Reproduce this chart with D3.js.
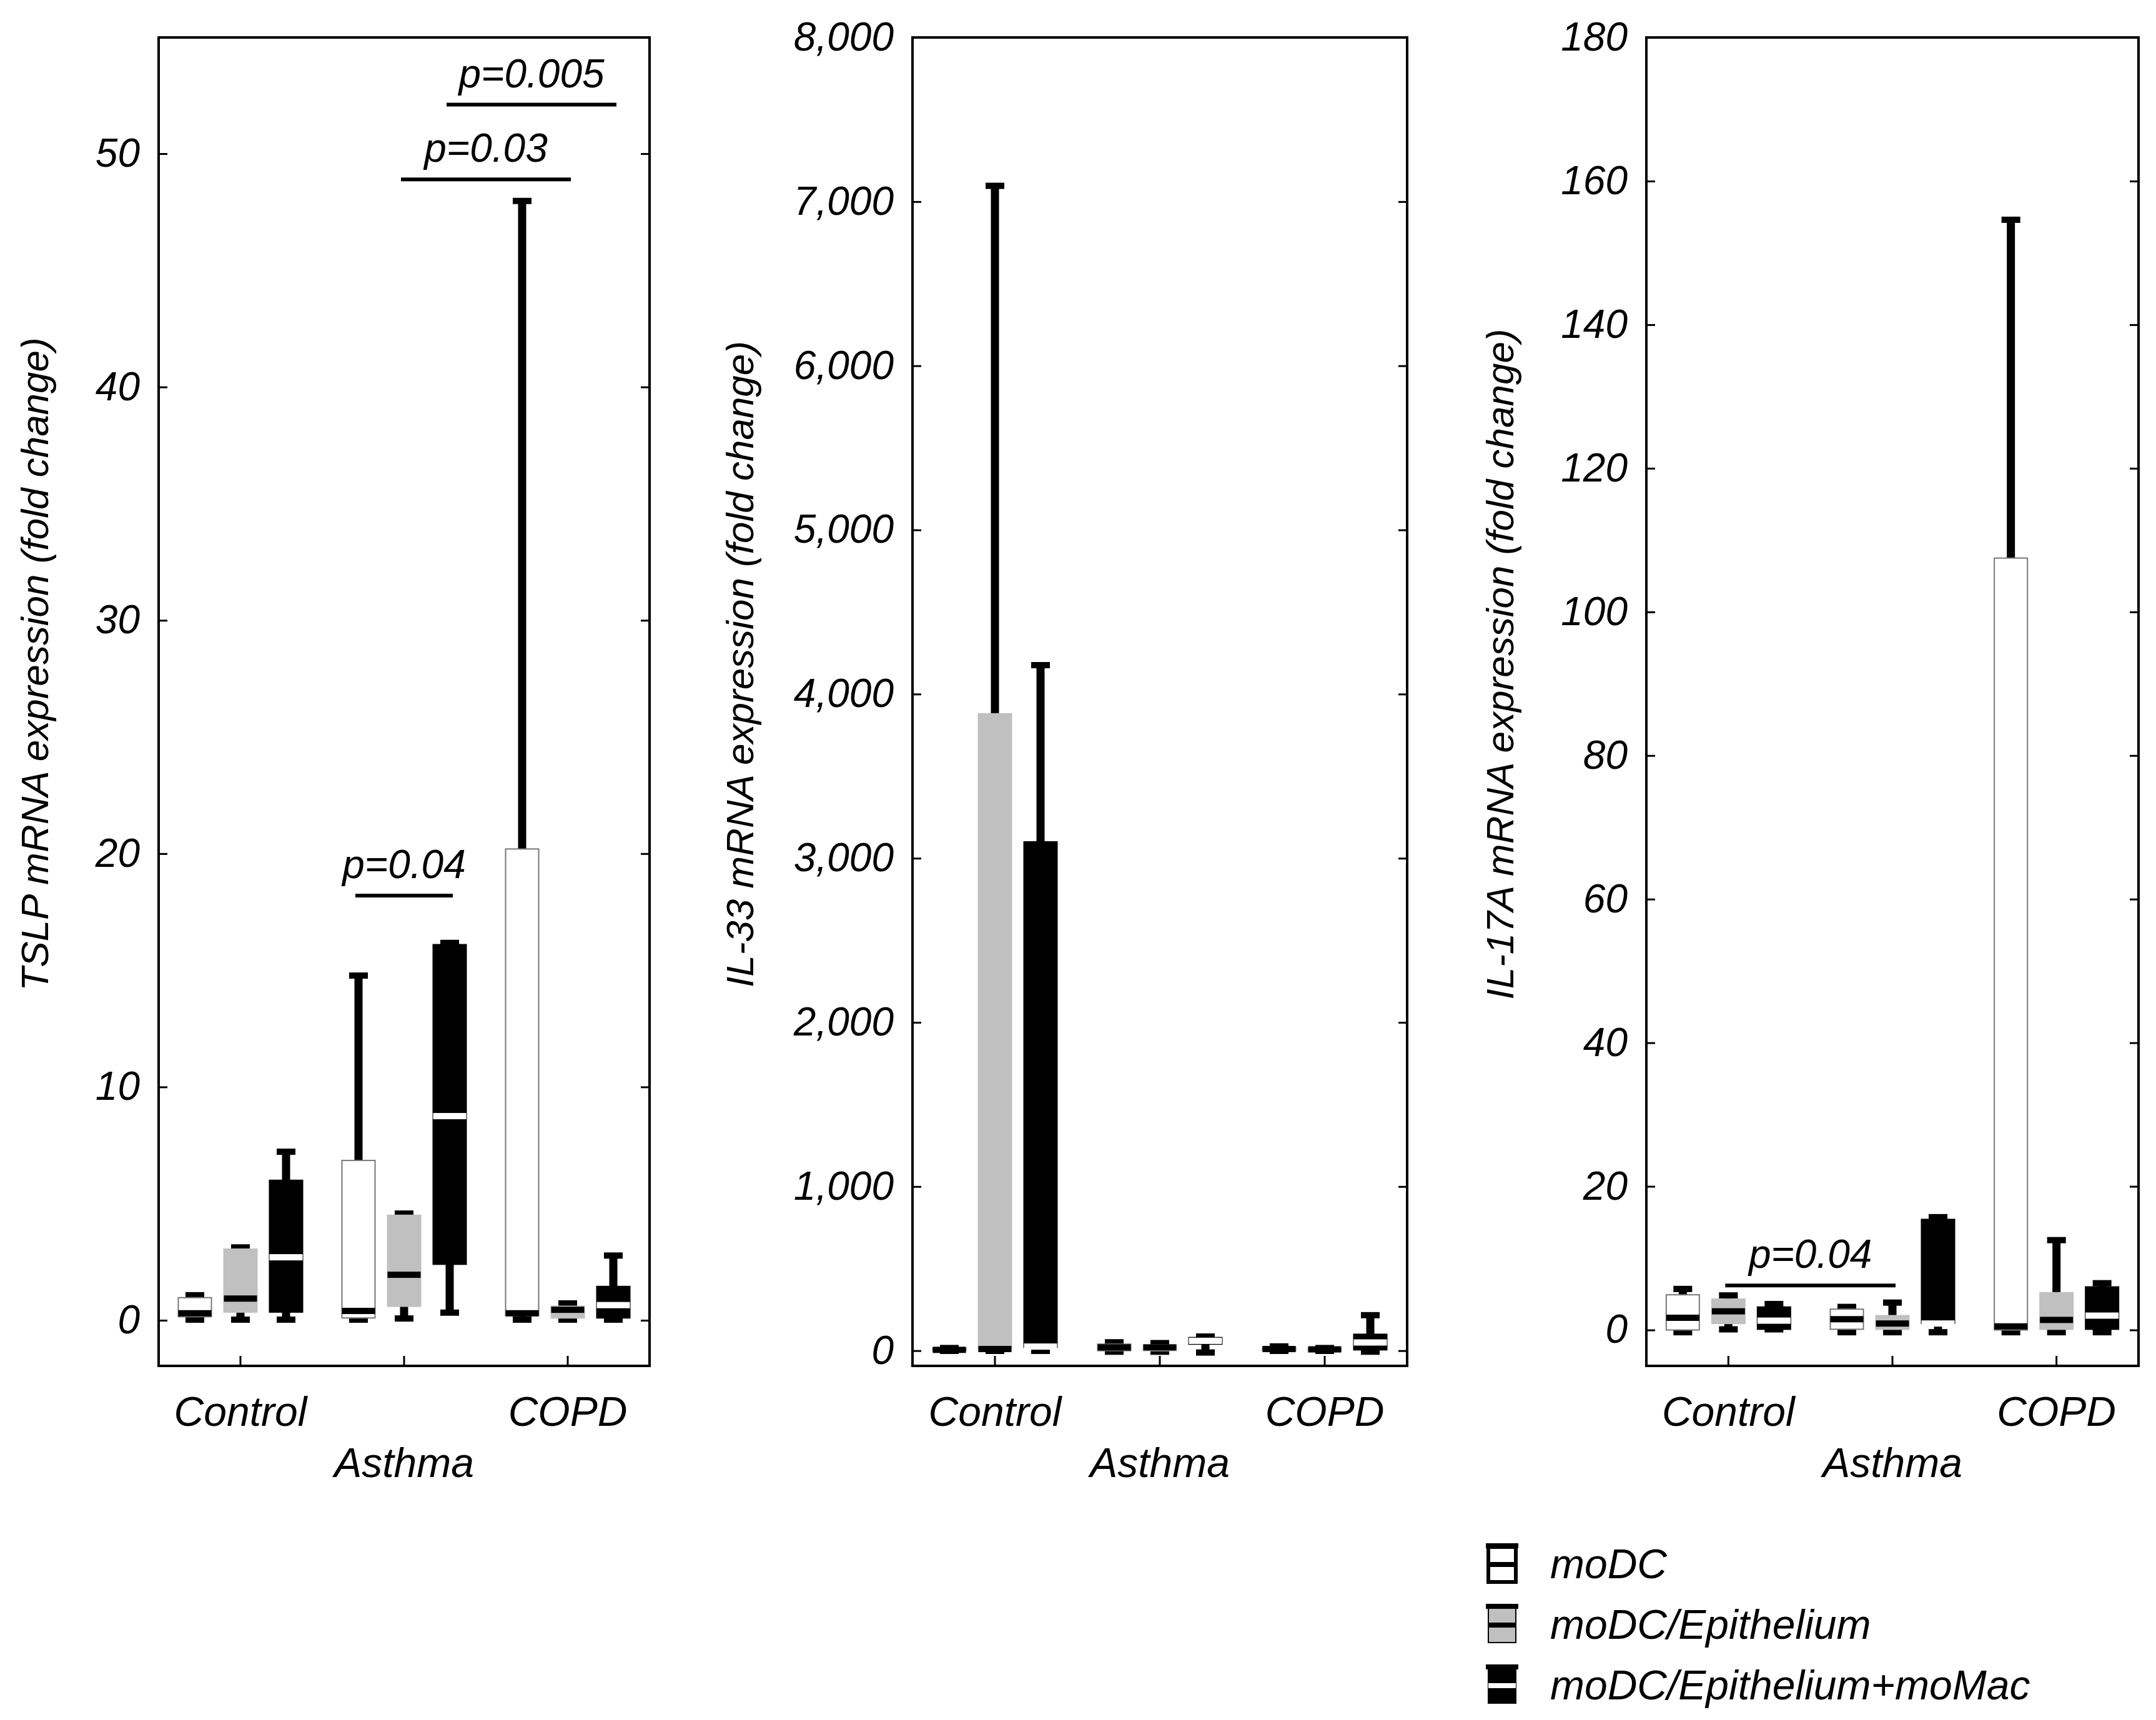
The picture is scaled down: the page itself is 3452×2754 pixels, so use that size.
<!DOCTYPE html>
<html><head><meta charset="utf-8">
<script src="https://cdn.jsdelivr.net/npm/d3@7"></script>
<style>body{margin:0;background:#fff}text{font-family:"Liberation Sans",Arial,sans-serif;font-style:italic}</style>
</head><body>
<script>
// groups and series
var groups = ['Control', 'Asthma', 'COPD'];
var series = ['moDC', 'moDC/Epithelium', 'moDC/Epithelium+moMac'];
var colors = ['#ffffff', '#c0c0c0', '#000000'];

// box stats per panel: [min, q1, median, q3, max], order: group x series
var tslp = [
  [0, 0.15, 0.3, 0.97, 1.1], [0, 0.35, 0.93, 3.05, 3.15], [0, 0.35, 2.7, 6.0, 7.25],
  [0, 0.1, 0.4, 6.85, 14.8], [0.05, 0.6, 1.95, 4.5, 4.6], [0.3, 2.4, 8.75, 16.1, 16.2],
  [0, 0.2, 0.3, 20.2, 48], [0, 0.1, 0.45, 0.6, 0.75], [0, 0.1, 0.65, 1.45, 2.8]
];
var il33 = [
  [-5, 0, 5, 15, 20], [-5, 5, 10, 3880, 7100], [-5, 20, 25, 3100, 4180],
  [-10, 0, 20, 40, 55], [-10, 0, 20, 35, 50], [-15, 40, 60, 80, 90],
  [-5, 0, 10, 20, 30], [-5, 0, 8, 15, 20], [-10, 5, 50, 100, 220]
];
var il17 = [
  [-0.4, 0, 1.7, 4.9, 5.8], [0, 0.9, 2.6, 4.3, 4.9], [0, 0.1, 1.3, 3.2, 3.7],
  [-0.4, 0.1, 1.5, 2.9, 3.3], [-0.4, 0.1, 0.9, 2.0, 3.9], [-0.4, 0.9, 0.9, 15.4, 15.8],
  [-0.4, 0, 0.5, 107.5, 154.7], [-0.4, 0.1, 1.4, 5.2, 12.6], [-0.4, 0.1, 2.0, 6.0, 6.6]
];

var tslpTicks = [0, 10, 20, 30, 40, 50];
var il33Ticks = [0, 1000, 2000, 3000, 4000, 5000, 6000, 7000, 8000];
var il17Ticks = [0, 20, 40, 60, 80, 100, 120, 140, 160, 180];

// p-value brackets: [group, series, group, series, y, label]
var tslpP = [[1, 0, 1, 2, 18.2, 'p=0.04'], [1, 1, 2, 1, 48.9, 'p=0.03'], [1, 2, 2, 2, 52.1, 'p=0.005']];
var il17P = [[0, 1, 1, 1, 6.2, 'p=0.04']];

var panels = [
  {x0: 254, x1: 1040, dom: [-1.955, 54.98], data: tslp, ticks: tslpTicks, label: 'TSLP mRNA expression (fold change)', lx: 77, p: tslpP},
  {x0: 1461, x1: 2253, dom: [-92.6, 8000], data: il33, ticks: il33Ticks, label: 'IL-33 mRNA expression (fold change)', lx: 1206, p: []},
  {x0: 2636, x1: 3424, dom: [-5.0, 180], data: il17, ticks: il17Ticks, label: 'IL-17A mRNA expression (fold change)', lx: 2423, p: il17P}
];

var topY = 60, bottomY = 2187;
var svg = d3.select('body').append('svg').attr('width', 3452).attr('height', 2754);

panels.forEach(function(P) {
  var g = svg.append('g');
  var y = d3.scaleLinear().domain(P.dom).range([bottomY, topY]);
  var x = d3.scaleBand().domain(groups).range([P.x0, P.x1]);
  var off = d3.scalePoint().domain(series).range([-73, 73]);
  var bw = 53;

  g.append('rect').attr('x', P.x0).attr('y', topY).attr('width', P.x1 - P.x0).attr('height', bottomY - topY)
    .attr('fill', 'none').attr('stroke', '#000').attr('stroke-width', 4);

  // y axis left (labels) and right (ticks only), ticks inward
  g.append('g').attr('transform', 'translate(' + P.x0 + ',0)')
    .call(d3.axisLeft(y).tickValues(P.ticks).tickSize(-14).tickPadding(30))
    .call(function(a) { a.select('.domain').remove(); a.selectAll('line').attr('stroke-width', 3); a.selectAll('text').attr('font-size', 64).attr('font-family', '"Liberation Sans",Arial').attr('font-style', 'italic'); });
  g.append('g').attr('transform', 'translate(' + P.x1 + ',0)')
    .call(d3.axisRight(y).tickValues(P.ticks).tickSize(-14).tickFormat(''))
    .call(function(a) { a.select('.domain').remove(); a.selectAll('line').attr('stroke-width', 3); });
  // x ticks inward
  g.selectAll('.xt').data(groups).enter().append('line')
    .attr('x1', function(d) { return x(d) + x.bandwidth() / 2; }).attr('x2', function(d) { return x(d) + x.bandwidth() / 2; })
    .attr('y1', bottomY).attr('y2', bottomY - 16).attr('stroke', '#000').attr('stroke-width', 3);
  g.selectAll('.xl').data(groups).enter().append('text')
    .attr('x', function(d) { return x(d) + x.bandwidth() / 2; })
    .attr('y', function(d, i) { return i == 1 ? 2365 : 2283; })
    .attr('text-anchor', 'middle').attr('font-size', 66).text(function(d) { return d; });

  g.append('text').attr('transform', 'translate(' + P.lx + ',' + ((topY + bottomY) / 2 - 60) + ') rotate(-90)')
    .attr('text-anchor', 'middle').attr('font-size', 62).text(P.label);

  var boxes = [];
  groups.forEach(function(gr, gi) {
    series.forEach(function(s, si) {
      var d = P.data[gi * 3 + si];
      boxes.push({cx: x(gr) + x.bandwidth() / 2 + off(s), si: si, min: d[0], q1: d[1], med: d[2], q3: d[3], max: d[4]});
    });
  });

  var b = g.selectAll('.box').data(boxes).enter().append('g');
  // whiskers
  b.append('line').attr('x1', function(d) { return d.cx; }).attr('x2', function(d) { return d.cx; })
    .attr('y1', function(d) { return y(d.q3); }).attr('y2', function(d) { return y(d.max); })
    .attr('stroke', '#000').attr('stroke-width', 13);
  b.append('rect').attr('x', function(d) { return d.cx - 15; }).attr('y', function(d) { return y(d.max) - 4; })
    .attr('width', 30).attr('height', 10).attr('fill', '#000');
  b.append('line').attr('x1', function(d) { return d.cx; }).attr('x2', function(d) { return d.cx; })
    .attr('y1', function(d) { return y(d.q1); }).attr('y2', function(d) { return y(d.min); })
    .attr('stroke', '#000').attr('stroke-width', 13);
  b.append('rect').attr('x', function(d) { return d.cx - 15; }).attr('y', function(d) { return y(d.min) - 6; })
    .attr('width', 30).attr('height', 10).attr('fill', '#000');
  // box
  b.append('rect').attr('x', function(d) { return d.cx - bw / 2; }).attr('y', function(d) { return y(d.q3); })
    .attr('width', bw).attr('height', function(d) { return Math.max(2, y(d.q1) - y(d.q3)); })
    .attr('fill', function(d) { return colors[d.si]; })
    .attr('stroke', function(d) { return d.si == 0 ? '#777' : colors[d.si]; }).attr('stroke-width', 2);
  // median
  b.append('rect').attr('x', function(d) { return d.cx - bw / 2; }).attr('y', function(d) { return y(d.med) - 5; })
    .attr('width', bw).attr('height', 10).attr('fill', function(d) { return d.si == 2 ? '#fff' : '#000'; });

  // p-values
  P.p.forEach(function(p) {
    var xa = x(groups[p[0]]) + x.bandwidth() / 2 + off(series[p[1]]) - 5;
    var xb = x(groups[p[2]]) + x.bandwidth() / 2 + off(series[p[3]]) + 5;
    g.append('line').attr('x1', xa).attr('x2', xb).attr('y1', y(p[4])).attr('y2', y(p[4]))
      .attr('stroke', '#000').attr('stroke-width', 6);
    g.append('text').attr('x', (xa + xb) / 2).attr('y', y(p[4]) - 28).attr('text-anchor', 'middle')
      .attr('font-size', 64).text(p[5]);
  });
});

// legend
var lg = svg.append('g');
series.forEach(function(s, i) {
  var yy = 2505 + i * 97;
  var cx = 2405;
  lg.append('rect').attr('x', cx - 22).attr('y', yy - 28).attr('width', 44).attr('height', 56)
    .attr('fill', colors[i]).attr('stroke', '#000').attr('stroke-width', i == 0 ? 6 : 2);
  lg.append('rect').attr('x', cx - 22).attr('y', yy - 4).attr('width', 44).attr('height', 8).attr('fill', i == 2 ? '#fff' : '#000');
  lg.append('rect').attr('x', cx - 26).attr('y', yy - 34).attr('width', 52).attr('height', 8).attr('fill', '#000');
  lg.append('text').attr('x', 2482).attr('y', yy + 22).attr('font-size', 66).text(s);
});
</script>
</body></html>
